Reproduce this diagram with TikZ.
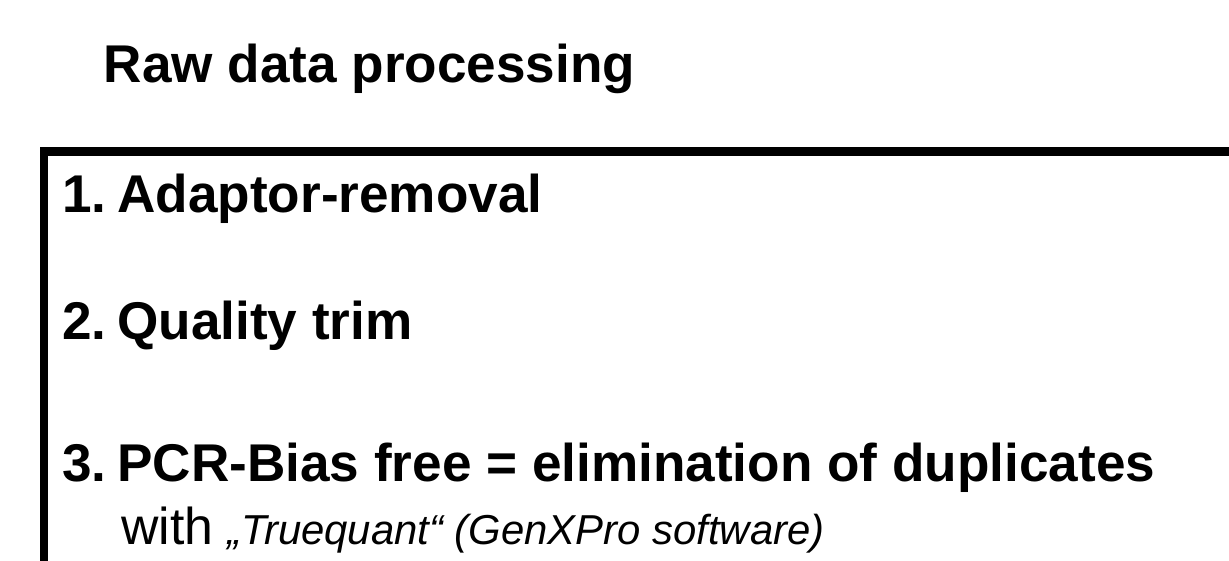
\documentclass[tikz,border=0pt]{standalone}
\usepackage{fontspec}
\setmainfont{Liberation Sans}
\usetikzlibrary{positioning}
\definecolor{RawInk}{HTML}{000000}
\definecolor{RawPaper}{HTML}{FFFFFF}
\tikzset{
  raw title/.style={font=\bfseries\fontsize{40}{48}\selectfont, text=RawInk, inner sep=0pt, anchor=base west},
  raw number/.style={font=\bfseries\fontsize{40}{48}\selectfont, text=RawInk, inner sep=0pt, anchor=base west},
  raw stepbox/.style={font=\bfseries\fontsize{40}{48}\selectfont, text=RawInk, inner sep=0pt, anchor=base west},
  raw note/.style={font=\fontsize{39}{47}\selectfont, text=RawInk, inner sep=0pt, anchor=base west},
  raw frame/.style={draw=RawInk, line width=6.75pt},
}
\newcommand{\RawNoteItalic}{\itshape\fontsize{31.5}{38}\selectfont}

\begin{document}
\begin{tikzpicture}[x=1cm,y=1cm]
  \useasboundingbox (0,0) rectangle (32.52,14.84);
  \fill[RawPaper] (0,0) rectangle (32.52,14.84);
  \node[raw title] (title) at (2.74,12.67) {Raw data processing};

  % frame, open to the right and below
  \begin{scope}
    \clip (0,0) rectangle (32.52,14.84);
    \draw[raw frame] (1.164,-1) rectangle (34,10.82);
  \end{scope}

  % 1 — adaptors
  \node[raw number] (n1) at (1.64,9.21) {1.};
  \node[raw stepbox] (s1) at (3.10,9.21) {Adaptor-removal};

  % 2 — quality
  \node[raw number] (n2) at (1.64,5.85) {2.};
  \node[raw stepbox] (s2) at (3.10,5.85) {Quality trim};

  % 3 — duplicates
  \node[raw number] (n3) at (1.64,2.09) {3.};
  \node[raw stepbox] (s3) at (3.10,2.09) {PCR-Bias free = elimination of duplicates};
  \node[raw note] (tool) at (3.20,0.42)
    {with {\RawNoteItalic „Truequant“ (GenXPro software)}};
\end{tikzpicture}
\end{document}
